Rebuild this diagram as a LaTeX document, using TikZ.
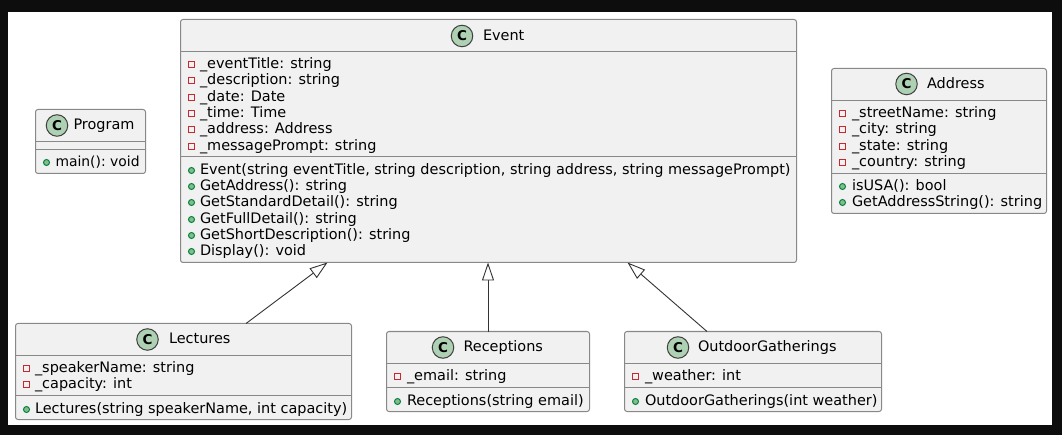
\documentclass[tikz,border=0pt]{standalone}
\usepackage{fontspec}
\setmainfont{DejaVu Sans}
\usetikzlibrary{arrows.meta}
\definecolor{frameblack}{HTML}{0D0D0D}
\definecolor{boxfill}{HTML}{F1F1F1}
\definecolor{boxline}{HTML}{888888}
\definecolor{iconfill}{HTML}{ADD1B2}
\definecolor{privred}{HTML}{C82930}
\definecolor{pubgreen}{HTML}{84BE84}
\definecolor{publine}{HTML}{038048}
\tikzset{
  x=1pt,y=-1pt,
  classbox/.style={draw=boxline,fill=boxfill,line width=1pt,rounded corners=2.5pt,anchor=north west,inner sep=0pt,outer sep=0pt},
  divider/.style={draw=boxline,line width=1pt},
  label/.style={anchor=base west,inner sep=0pt,outer sep=0pt,font=\fontsize{14.45}{16}\selectfont,text=black},
  badge/.style={circle,draw=black!75,fill=iconfill,line width=1pt,minimum size=21.5pt,inner sep=0pt,font=\fontsize{13.5}{13.5}\bfseries\selectfont,text=black},
  privicon/.style={draw=privred,fill=none,line width=1pt,minimum size=6pt,inner sep=0pt,rectangle},
  pubicon/.style={circle,draw=publine,fill=pubgreen,line width=1pt,minimum size=6pt,inner sep=0pt},
  inherit/.style={draw=black!80,line width=0.9pt,-{Triangle[open,fill=white,length=18pt,width=12pt]}}
}
\newcommand{\classbox}[5]{% name x y w h
  \node[classbox,minimum width=#4pt,minimum height=#5pt] (#1) at (#2,#3) {};
}
\newcommand{\priv}[4]{% iconx textx baseline text
  \node[privicon] at (#1,#3-3.5) {};
  \node[label] at (#2,#3+0.6) {\detokenize{#4}};
}
\newcommand{\pub}[4]{%
  \node[pubicon] at (#1,#3-3.5) {};
  \node[label] at (#2,#3+0.6) {\detokenize{#4}};
}
\begin{document}
\begin{tikzpicture}
\useasboundingbox (0,0) rectangle (1062,435);
\fill[frameblack] (0,0) rectangle (1062,435);
\fill[white] (8,12) rectangle (1052,425);

% Event
\classbox{Event}{180.5}{19.5}{616}{243}
\draw[divider] (180.5,51.5) -- (796.5,51.5);
\draw[divider] (180.5,156.5) -- (796.5,156.5);
\node[badge] (eventC) at (462,36) {C};
\node[label] (eventT) at (483,41) {Event};
\priv{191.5}{200}{68}{_eventTitle: string}
\priv{191.5}{200}{84}{_description: string}
\priv{191.5}{200}{101}{_date: Date}
\priv{191.5}{200}{117}{_time: Time}
\priv{191.5}{200}{133}{_address: Address}
\priv{191.5}{200}{150}{_messagePrompt: string}
\pub{191.5}{200}{174}{Event(string eventTitle, string description, string address, string messagePrompt)}
\pub{191.5}{200}{190}{GetAddress(): string}
\pub{191.5}{200}{206}{GetStandardDetail(): string}
\pub{191.5}{200}{223}{GetFullDetail(): string}
\pub{191.5}{200}{239}{GetShortDescription(): string}
\pub{191.5}{200}{255}{Display(): void}

% Program
\classbox{Program}{35.5}{109.5}{110}{64}
\draw[divider] (35.5,141.5) -- (145.5,141.5);
\draw[divider] (35.5,149.5) -- (145.5,149.5);
\node[badge] (programC) at (57,125.5) {C};
\node[label] (programT) at (73.5,130) {Program};
\node[pubicon] (mainicon) at (46.5,162.5) {};
\node[label,font=\fontsize{13.9}{16}\selectfont] (mainT) at (55.5,166.6) {\spaceskip=3pt main(): void};

% Address
\classbox{Address}{831.5}{68.5}{215}{145}
\draw[divider] (831.5,100.5) -- (1046.5,100.5);
\draw[divider] (831.5,173.5) -- (1046.5,173.5);
\node[badge] (addressC) at (906.5,84) {C};
\node[label] (addressT) at (927,89) {Address};
\priv{842.5}{852}{117}{_streetName: string}
\priv{842.5}{852}{133}{_city: string}
\priv{842.5}{852}{150}{_state: string}
\priv{842.5}{852}{166}{_country: string}
\pub{842.5}{852}{190}{isUSA(): bool}
\pub{842.5}{852}{206}{GetAddressString(): string}

% Lectures
\classbox{Lectures}{15.5}{323.5}{336}{96}
\draw[divider] (15.5,355.5) -- (351.5,355.5);
\draw[divider] (15.5,395.5) -- (351.5,395.5);
\node[badge] (lecturesC) at (147.5,339.5) {C};
\node[label] (lecturesT) at (169,344) {Lectures};
\priv{26.5}{35}{372}{_speakerName: string}
\priv{26.5}{35}{388}{_capacity: int}
\pub{26.5}{35}{413}{Lectures(string speakerName, int capacity)}

% Receptions
\classbox{Receptions}{386.5}{331.5}{203}{80}
\draw[divider] (386.5,363.5) -- (589.5,363.5);
\draw[divider] (386.5,387.5) -- (589.5,387.5);
\node[badge] (receptionsC) at (443,347.5) {C};
\node[label] (receptionsT) at (463.5,352) {Receptions};
\priv{397.5}{407}{380}{_email: string}
\pub{397.5}{407}{405}{Receptions(string email)}

% OutdoorGatherings
\classbox{OutdoorGatherings}{624.5}{331.5}{257}{80}
\draw[divider] (624.5,363.5) -- (881.5,363.5);
\draw[divider] (624.5,387.5) -- (881.5,387.5);
\node[badge] (outdoorC) at (678,347.5) {C};
\node[label] (outdoorT) at (698,352) {OutdoorGatherings};
\priv{635.5}{645}{380}{_weather: int}
\pub{635.5}{645}{405}{OutdoorGatherings(int weather)}

% Inheritance
\draw[inherit] ([xshift=62.5pt]Lectures.north) -- ([xshift=-161pt]Event.south);
\draw[inherit] (Receptions.north) -- ([xshift=-0.5pt]Event.south);
\draw[inherit] ([xshift=-46pt]OutdoorGatherings.north) -- ([xshift=139pt]Event.south);
\end{tikzpicture}
\end{document}
